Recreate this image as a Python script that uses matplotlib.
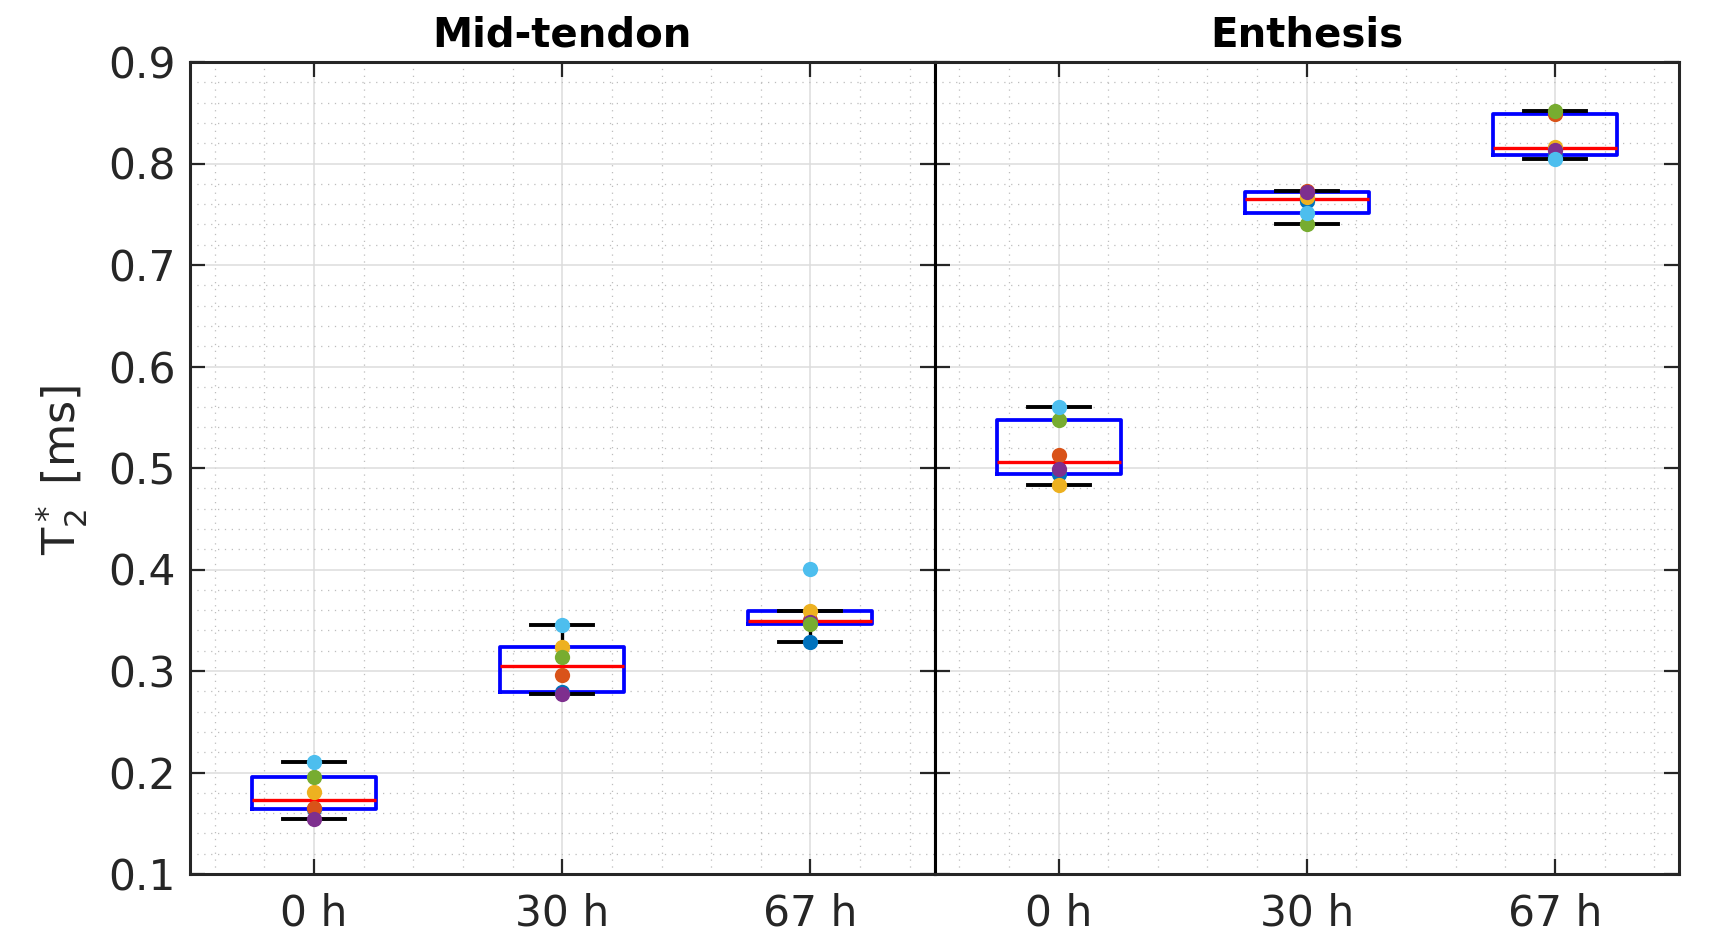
import numpy as np
import matplotlib
matplotlib.use('Agg')
import matplotlib.pyplot as plt
from matplotlib.ticker import MultipleLocator, FixedLocator

plt.rcParams['font.family'] = ['DejaVu Sans']
plt.rcParams['mathtext.default'] = 'regular'

categories = ['0 h', '30 h', '67 h']
panel_titles = ['Mid-tendon', 'Enthesis']
y_ticks = [0.1, 0.2, 0.3, 0.4, 0.5, 0.6, 0.7, 0.8, 0.9]
y_ticklabels = ['0.1', '0.2', '0.3', '0.4', '0.5', '0.6', '0.7', '0.8', '0.9']

# subject colours (plot order)
subject_colors = ['#0072BD', '#D95319', '#EDB120', '#7E2F8E', '#77AC30', '#4DBEEE']

# values per subject, same order as subject_colors
mid_0h = [0.1640, 0.1648, 0.1805, 0.1539, 0.1953, 0.2101]
mid_30h = [0.2795, 0.2961, 0.3234, 0.2778, 0.3139, 0.3451]
mid_67h = [0.3287, 0.3505, 0.3592, 0.3485, 0.3464, 0.4006]
ent_0h = [0.4945, 0.5127, 0.4831, 0.4989, 0.5468, 0.5600]
ent_30h = [0.7626, 0.7733, 0.7669, 0.7717, 0.7403, 0.7511]
ent_67h = [0.8087, 0.8484, 0.8164, 0.8134, 0.8520, 0.8040]

panels = [[mid_0h, mid_30h, mid_67h], [ent_0h, ent_30h, ent_67h]]


def box_stats(vals):
    v = np.asarray(vals)
    q1, med, q3 = np.percentile(v, [25, 50, 75], method='hazen')
    iqr = q3 - q1
    lo_f, hi_f = q1 - 1.5 * iqr, q3 + 1.5 * iqr
    inside = v[(v >= lo_f) & (v <= hi_f)]
    return dict(med=med, q1=q1, q3=q3, whislo=inside.min(), whishi=inside.max(), fliers=[])


W, H = 1730, 948
fig = plt.figure(figsize=(W / 100, H / 100), dpi=100)
left, bottom = 190 / W, 74 / H
aw, ah = 744.5 / W, 812 / H
axes = [fig.add_axes([left, bottom, aw, ah]), fig.add_axes([left + aw, bottom, aw, ah])]

pos = np.arange(1, len(categories) + 1)
for i, ax in enumerate(axes):
    data = panels[i]
    stats = [box_stats(d) for d in data]
    ax.bxp(stats, positions=pos, widths=0.5, capwidths=0.25, showfliers=False,
           boxprops=dict(color='#0000FF', linewidth=2.7),
           medianprops=dict(color='#FF0000', linewidth=2.4),
           whiskerprops=dict(color='black', linewidth=2.4, linestyle='-'),
           capprops=dict(color='black', linewidth=2.8),
           zorder=3)
    for j, d in enumerate(data):
        for k, val in enumerate(d):
            ax.plot(pos[j], val, 'o', color=subject_colors[k], markersize=11,
                    markeredgewidth=0, zorder=4)

    ax.set_xlim(0.5, 3.5)
    ax.set_ylim(0.1, 0.9)
    ax.set_xticks(pos)
    ax.set_xticklabels(categories)
    ax.yaxis.set_major_locator(FixedLocator(y_ticks))
    ax.set_yticklabels(y_ticklabels)
    ax.xaxis.set_minor_locator(MultipleLocator(0.2))
    ax.yaxis.set_minor_locator(MultipleLocator(0.02))
    ax.tick_params(which='major', direction='in', length=11, width=1.6, color='#262626',
                   top=True, right=True, labelsize=30.5, labelcolor='#262626')
    ax.tick_params(axis='x', which='major', pad=13)
    ax.tick_params(axis='y', which='major', pad=10)
    ax.tick_params(which='minor', length=0, top=True, right=True)
    ax.grid(which='major', color='#dcdcdc', linewidth=1.1, linestyle='-')
    ax.grid(which='minor', color='#bdbdbd', linewidth=0.9, linestyle=(0, (1, 4.5)))
    ax.set_axisbelow(True)
    for s in ax.spines.values():
        s.set_linewidth(2.2)
        s.set_color('#262626')
    ax.set_title(panel_titles[i], fontsize=29, fontweight='bold', pad=11)
    if i == 1:
        ax.tick_params(labelleft=False)
        ax.spines['left'].set_color('black')
    else:
        ax.spines['right'].set_color('black')

fig.text(62 / W, 1 - 470 / H, r'$T_2^*$ [ms]', rotation=90, ha='center', va='center',
         fontsize=32, color='#262626')

fig.savefig('out.png', dpi=100, facecolor='white')
